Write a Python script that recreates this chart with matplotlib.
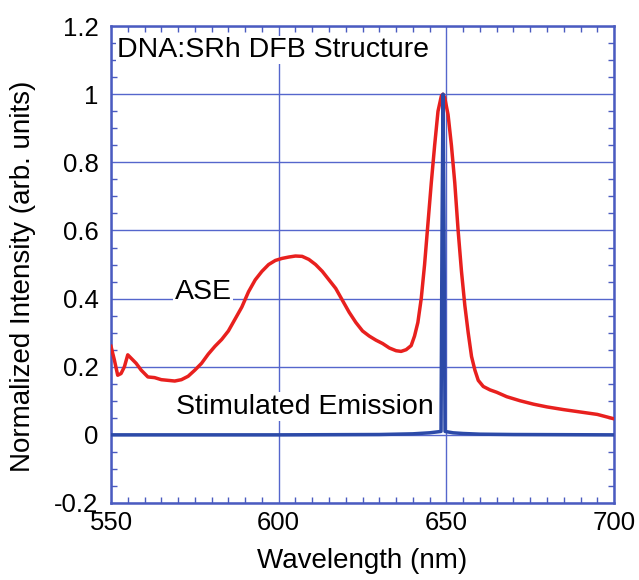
import matplotlib
matplotlib.use("Agg")
import matplotlib.pyplot as plt
from matplotlib.ticker import MultipleLocator

plt.rcParams['font.family'] = ['Liberation Sans', 'DejaVu Sans']

# ASE (red) spectrum
ase_wl = [550, 551, 552, 553, 554, 555, 556, 557.5, 559, 561, 563, 565, 567, 569, 571,
          573, 575, 577, 579, 581, 583, 585, 587, 589, 591, 593, 595, 597, 599, 601,
          603, 605, 607, 609, 611, 613, 615, 617, 619, 621, 623, 625, 627, 629, 631,
          633, 635, 636.5, 638, 639.5, 640.5, 641.5, 642.5, 643.5, 644.5, 645.5, 646.5,
          647.5, 648.5, 649, 649.5, 650.5, 651.5, 652.5, 653.5, 654.5, 655.5, 656.5,
          657.5, 658.5, 659.5, 661, 663, 665, 668, 672, 676, 680, 685, 690, 695, 700]
ase_int = [0.26, 0.22, 0.175, 0.18, 0.2, 0.235, 0.225, 0.21, 0.19, 0.17, 0.168, 0.162,
           0.16, 0.158, 0.162, 0.172, 0.19, 0.21, 0.237, 0.26, 0.28, 0.305, 0.34, 0.375,
           0.42, 0.455, 0.48, 0.5, 0.512, 0.518, 0.522, 0.525, 0.524, 0.515, 0.5, 0.48,
           0.455, 0.43, 0.395, 0.36, 0.33, 0.305, 0.29, 0.278, 0.268, 0.255, 0.247, 0.245,
           0.25, 0.262, 0.29, 0.33, 0.40, 0.5, 0.62, 0.74, 0.85, 0.95, 0.995, 1.0, 0.99,
           0.94, 0.85, 0.74, 0.6, 0.48, 0.38, 0.3, 0.23, 0.19, 0.16, 0.142, 0.132, 0.125,
           0.112, 0.1, 0.09, 0.082, 0.074, 0.067, 0.06, 0.047]

# Stimulated emission (blue) spectrum
se_wl = [550, 600, 630, 640, 645, 648.4, 648.7, 649.0, 649.3, 649.6, 652, 655, 660, 670, 700]
se_int = [0.0, 0.0, 0.001, 0.003, 0.006, 0.01, 0.6, 1.0, 0.6, 0.01, 0.006, 0.004, 0.002, 0.001, 0.0]

xticks = [550, 600, 650, 700]
yticks = [-0.2, 0, 0.2, 0.4, 0.6, 0.8, 1.0, 1.2]
ytick_labels = ['-0.2', '0', '0.2', '0.4', '0.6', '0.8', '1', '1.2']

axis_blue = '#4a5bc0'
fig = plt.figure(figsize=(6.39, 5.80), dpi=100)
ax = fig.add_axes([0.1737, 0.1328, 0.7873, 0.8222])

ax.plot(ase_wl, ase_int, color='#e8201e', lw=2.5, zorder=3)
ax.plot(se_wl, se_int, color='#2c4aa8', lw=2.5, zorder=4)

ax.set_xlim(550, 700)
ax.set_ylim(-0.2, 1.2)
ax.set_xticks(xticks)
ax.set_yticks(yticks)
ax.set_yticklabels(ytick_labels)
ax.xaxis.set_minor_locator(MultipleLocator(5))
ax.yaxis.set_minor_locator(MultipleLocator(0.05))
ax.grid(True, which='major', color='#5566cc', lw=1.0, zorder=1)
ax.tick_params(which='both', direction='in', top=True, right=True, colors=axis_blue,
               labelcolor='black', labelsize=18.5)
ax.tick_params(which='major', length=0)
ax.tick_params(axis='y', which='major', pad=9)
ax.tick_params(axis='x', which='major', pad=6)
ax.tick_params(which='minor', length=4, width=1)
for s in ax.spines.values():
    s.set_color(axis_blue)
    s.set_linewidth(1.8)

ax.set_xlabel('Wavelength (nm)', fontsize=20)
ax.set_ylabel('Normalized Intensity (arb. units)', fontsize=20)
ax.xaxis.set_label_coords(0.5, -0.095)
ax.yaxis.set_label_coords(-0.15, 0.476)

ax.text(551.8, 1.13, 'DNA:SRh DFB Structure', fontsize=20.5, va='center', ha='left',
        bbox=dict(facecolor='white', edgecolor='none', pad=1), zorder=5)
ax.text(569, 0.42, 'ASE', fontsize=20.5, va='center', ha='left',
        bbox=dict(facecolor='white', edgecolor='none', pad=1), zorder=5)
ax.text(569.5, 0.082, 'Stimulated Emission', fontsize=20.5, va='center', ha='left',
        bbox=dict(facecolor='white', edgecolor='none', pad=1), zorder=5)

fig.savefig('out.png', dpi=100)
